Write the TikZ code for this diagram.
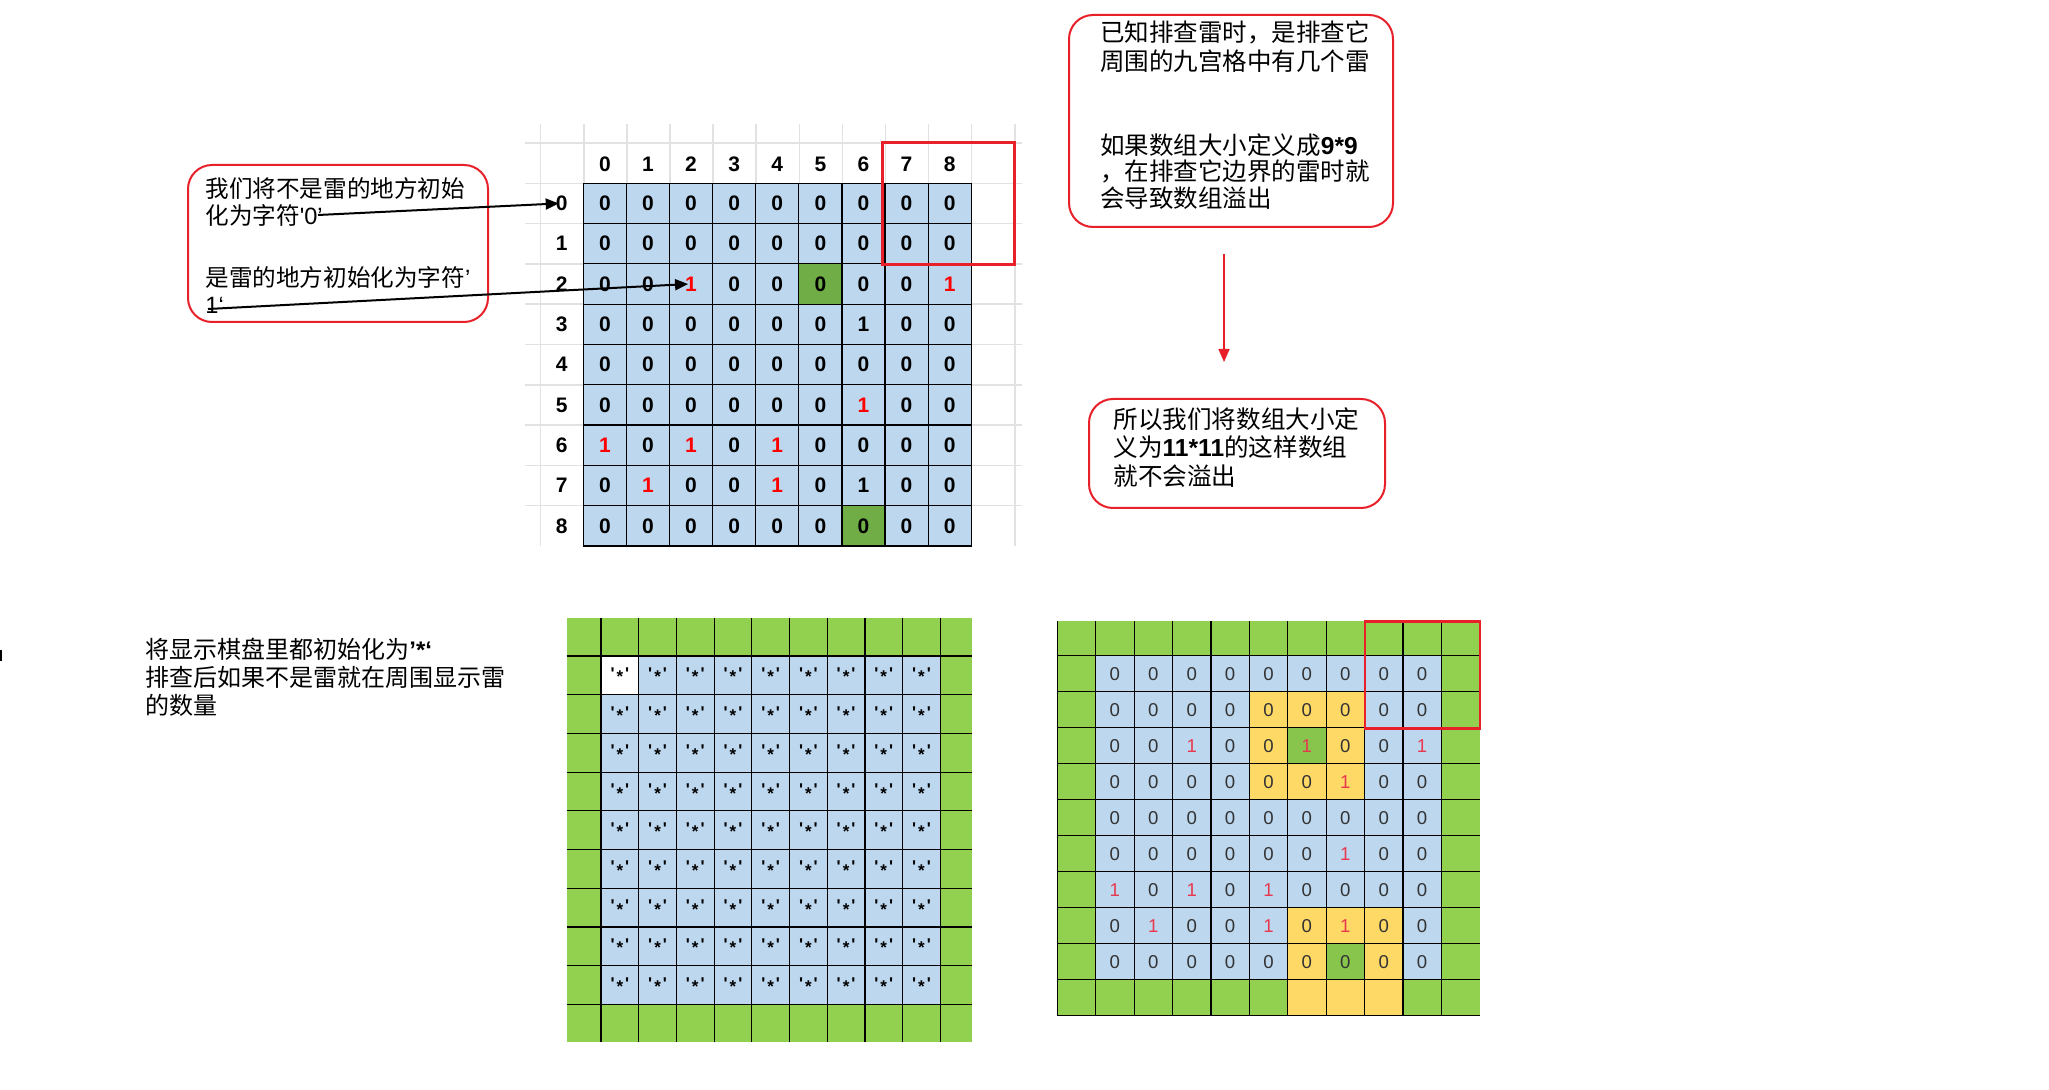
\documentclass[tikz,border=0pt]{standalone}
\usepackage{fontspec}
\setmainfont{Liberation Sans}
\newfontfamily\cjk{Noto Sans CJK SC}
\usetikzlibrary{arrows.meta}

\definecolor{cellblue}{HTML}{BDD7EE}
\definecolor{edgegreen}{HTML}{92D050}
\definecolor{darkgreen}{HTML}{70AD47}
\definecolor{ringyellow}{HTML}{FFD966}
\definecolor{boxred}{HTML}{E8202A}
\definecolor{sheetgray}{HTML}{E2E2E2}
\definecolor{numgray}{HTML}{333333}
\definecolor{minered}{HTML}{E8384F}

\tikzset{
  sheetline/.style={draw=sheetgray, line width=0.75pt},
  gridline/.style={draw=black, line width=0.6pt},
  cell/.style={draw=black, line width=0.6pt, inner sep=0pt, fill=cellblue,
    minimum width=21.55pt, minimum height=20.15pt,
    font=\fontsize{10.5}{12}\selectfont\bfseries},
  idx/.style={inner sep=0pt, font=\fontsize{10.5}{12}\selectfont\bfseries},
  safe/.style={},
  mine/.style={text=red},
  hit/.style={fill=darkgreen},
  star/.style={inner sep=0pt, font=\fontsize{8.5}{10}\selectfont\bfseries},
  num/.style={inner sep=0pt, minimum width=19.2pt, minimum height=18pt,
    font=\fontsize{9.3}{11}\selectfont},
  sea/.style={fill=cellblue},
  ring/.style={fill=ringyellow},
  core/.style={fill=edgegreen!70!darkgreen},
  v0/.style={text=numgray},
  v1/.style={text=minered},
  callout/.style={draw=boxred, line width=1pt, rounded corners=12pt, inner sep=0pt},
  note/.style={inner sep=0pt, align=left, anchor=north west},
  pointer/.style={-{Triangle[length=6.5pt,width=5.5pt]}, line width=1pt},
}

\begin{document}
\begin{tikzpicture}[x=0.5pt, y=-0.5pt]
\useasboundingbox (0,0) rectangle (2049,1090);
\fill[white] (0,0) rectangle (2049,1090);

\foreach \k in {0,...,11} \draw[sheetline] ({540.7+43.1*\k},124) -- ({540.7+43.1*\k},546);
\foreach \k in {0,...,9} \draw[sheetline] (525,{143+40.3*\k}) -- (1022,{143+40.3*\k});
\foreach \k in {0,...,8} {
  \node[idx] (h-\k) at ({583.3+43.1*(\k+.5)},164) {\k};
  \node[idx] (row\k) at (561.7,{183.3+40.3*(\k+.5)}) {\k};
}
\foreach \row [count=\r from 0] in {
  {0/safe,0/safe,0/safe,0/safe,0/safe,0/safe,0/safe,0/safe,0/safe},
  {0/safe,0/safe,0/safe,0/safe,0/safe,0/safe,0/safe,0/safe,0/safe},
  {0/safe,0/safe,1/mine,0/safe,0/safe,0/hit,0/safe,0/safe,1/mine},
  {0/safe,0/safe,0/safe,0/safe,0/safe,0/safe,1/safe,0/safe,0/safe},
  {0/safe,0/safe,0/safe,0/safe,0/safe,0/safe,0/safe,0/safe,0/safe},
  {0/safe,0/safe,0/safe,0/safe,0/safe,0/safe,1/mine,0/safe,0/safe},
  {1/mine,0/safe,1/mine,0/safe,1/mine,0/safe,0/safe,0/safe,0/safe},
  {0/safe,1/mine,0/safe,0/safe,1/mine,0/safe,1/safe,0/safe,0/safe},
  {0/safe,0/safe,0/safe,0/safe,0/safe,0/safe,0/hit,0/safe,0/safe}}
  \foreach \v/\s [count=\c from 0] in \row
    \node[cell,\s] (t-\r-\c) at ({583.3+43.1*(\c+.5)},{183.3+40.3*(\r+.5)}) {\v};
\draw[boxred, line width=1.25pt] (882.7,142.3) rectangle (1014.3,264.7);

\node[callout, minimum width=150pt, minimum height=78.5pt] (initbox) at (338,243.5) {};
\node[note, font=\cjk\fontsize{11.8}{13.5}\selectfont] (inittext) at (205,177)
  {我们将不是雷的地方初始\\化为字符{\rmfamily\textquotesingle0’}\\[17.5pt]是雷的地方初始化为字符{\rmfamily’}\\{\rmfamily1‘}};
\coordinate (zerotail) at (318,215);
\coordinate (onetail) at (208,309);
\draw[pointer] (zerotail) -- ([xshift=-1.5pt]row0.center);
\draw[pointer] (onetail) -- ([xshift=-1.5pt]t-2-2.center);

\node[callout, minimum width=162pt, minimum height=106pt] (sizebox) at (1231,121) {};
\node[note, font=\cjk\fontsize{12.25}{13.25}\selectfont] (sizetext) at (1100,20)
  {已知排查雷时，是排查它\\[1.5pt]周围的九宫格中有几个雷\\[28.5pt]如果数组大小定义成{\rmfamily\bfseries 9*9}\\，在排查它边界的雷时就\\会导致数组溢出};
\coordinate (downtop) at (1224,254);
\coordinate (downend) at (1224,362);
\draw[-{Triangle[length=6.5pt,width=5.5pt]}, boxred, line width=0.75pt] (downtop) -- (downend);
\node[callout, minimum width=148pt, minimum height=54.5pt] (fixbox) at (1237,453.5) {};
\node[note, font=\cjk\fontsize{12.3}{14.25}\selectfont] (fixtext) at (1113,407)
  {所以我们将数组大小定\\义为{\rmfamily\bfseries 11*11}的这样数组\\就不会溢出};

\draw[line width=1pt] (1,650) -- (1,661);
\node[note, font=\cjk\fontsize{12}{14}\selectfont] (showtext) at (145,638)
  {将显示棋盘里都初始化为{\rmfamily\bfseries ’*‘}\\排查后如果不是雷就在周围显示雷\\的数量};

\fill[edgegreen] (566.7,618.3) rectangle (971.7,1041.7);
\fill[cellblue] (601,656) rectangle (940.3,1004.3);
\fill[white] (601,656) rectangle (638.7,694.7);
\foreach \k in {0,...,9} {
  \draw[gridline] ({601+37.7*\k},618.3) -- ({601+37.7*\k},1041.7);
  \draw[gridline] (566.7,{656+38.7*\k}) -- (971.7,{656+38.7*\k});
}
\foreach \r in {0,...,8}
  \foreach \c in {0,...,8}
    \node[star] (s-\r-\c) at ({601+37.7*(\c+.5)},{656+38.7*(\r+.5)})
      {\textquotesingle\kern1pt\raisebox{-1.8pt}{*}\kern1pt\textquotesingle};

\fill[edgegreen] (1057.3,621) rectangle (1479.7,1015.7);
\fill[ringyellow] (1287.7,979.7) rectangle (1402.9,1015.7);
\foreach \row [count=\r] in {
  {0/sea,0/sea,0/sea,0/sea,0/sea,0/sea,0/sea,0/sea,0/sea},
  {0/sea,0/sea,0/sea,0/sea,0/ring,0/ring,0/ring,0/sea,0/sea},
  {0/sea,0/sea,1/sea,0/sea,0/ring,1/core,0/ring,0/sea,1/sea},
  {0/sea,0/sea,0/sea,0/sea,0/ring,0/ring,1/ring,0/sea,0/sea},
  {0/sea,0/sea,0/sea,0/sea,0/sea,0/sea,0/sea,0/sea,0/sea},
  {0/sea,0/sea,0/sea,0/sea,0/sea,0/sea,1/sea,0/sea,0/sea},
  {1/sea,0/sea,1/sea,0/sea,1/sea,0/sea,0/sea,0/sea,0/sea},
  {0/sea,1/sea,0/sea,0/sea,1/sea,0/ring,1/ring,0/ring,0/sea},
  {0/sea,0/sea,0/sea,0/sea,0/sea,0/ring,0/core,0/ring,0/sea}}
  \foreach \v/\s [count=\c] in \row
    \node[num,\s,v\v] (b-\r-\c) at ({1057.3+38.4*(\c+.5)},{655.7+36*(\r-.5)}) {\v};
\foreach \k in {0,...,10} {
  \draw[gridline] ({1057.3+38.4*\k},621) -- ({1057.3+38.4*\k},1015.7);
  \draw[gridline] (1057.3,{655.7+36*\k}) -- (1479.7,{655.7+36*\k});
}
\draw[boxred, line width=1.25pt] (1365,621.7) rectangle (1480,728.5);
\end{tikzpicture}
\end{document}
